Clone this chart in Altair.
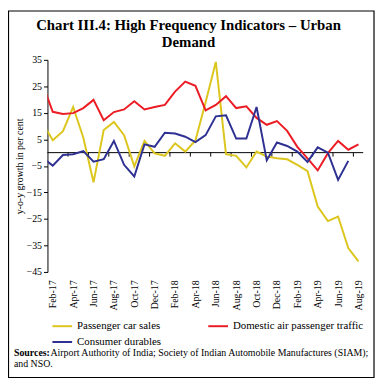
import altair as alt
import pandas as pd

months = ["Jan-17","Feb-17","Mar-17","Apr-17","May-17","Jun-17","Jul-17","Aug-17","Sep-17","Oct-17","Nov-17","Dec-17",
          "Jan-18","Feb-18","Mar-18","Apr-18","May-18","Jun-18","Jul-18","Aug-18","Sep-18","Oct-18","Nov-18","Dec-18",
          "Jan-19","Feb-19","Mar-19","Apr-19","May-19","Jun-19","Jul-19","Aug-19"]

car_sales = [11.2, 4.7, 8.1, 17.2, 5.6, -11.2, 8.5, 11.6, 6.6, -5.2, 4.4, -0.3,
             -1.2, 3.5, 0.4, 4.6, 19.0, 34.2, -0.6, -1.2, -5.6, 0.4, -1.5, -2.1,
             -2.5, -4.6, -7.0, -20.3, -25.8, -24.1, -36.0, -41.0]
air_traffic = [25.8, 15.4, 14.6, 14.9, 16.8, 19.9, 12.2, 15.3, 16.3, 19.4, 16.3, 17.2,
               18.0, 23.0, 26.8, 25.2, 15.9, 18.0, 21.3, 16.8, 17.5, 13.1, 10.5, 11.9,
               8.2, 2.2, -2.2, -6.7, -0.2, 4.4, 1.1, 3.1]
durables = [-2.0, -4.9, -0.9, -0.6, 0.6, -3.4, -2.5, 4.4, -4.6, -9.0, 3.1, 2.2,
            7.5, 7.2, 6.0, 4.0, 6.6, 13.7, 14.1, 5.3, 5.3, 17.2, -2.9, 3.8,
            2.5, 0.4, -3.5, 2.0, 0.0, -10.3, -3.1, None]

series_names = ["Passenger car sales", "Domestic air passenger traffic", "Consumer durables"]
series_colors = ["#DCC61E", "#EC1C24", "#2E3192"]
y_ticks = [-45, -35, -25, -15, -5, 5, 15, 25, 35]
x_label_idx = list(range(1, 32, 2))

rows = []
for name, vals in zip(series_names, [car_sales, air_traffic, durables]):
    for i, v in enumerate(vals):
        if v is not None:
            rows.append({"idx": i, "value": v, "series": name})
df = pd.DataFrame(rows)

SERIF = "Liberation Serif"
label_expr = "[" + ",".join("'%s'" % m for m in months) + "][datum.value]"
x_scale = alt.Scale(domain=[0.48, 31.46], nice=False, zero=False)
y_scale = alt.Scale(domain=[-45, 35], nice=False)

x_axis = alt.Axis(values=x_label_idx, labelExpr=label_expr, labelAngle=-90,
                  labelAlign="right", labelBaseline="middle", domain=False, ticks=False,
                  grid=False, labelPadding=8, labelFont=SERIF, labelFontSize=10,
                  labelColor="black", labelOverlap=False, labelBound=False,
                  labelFlush=False, title=None)
y_axis = alt.Axis(values=y_ticks, grid=False, domainColor="black", tickColor="black",
                  tickSize=4, labelPadding=2, labelFont=SERIF, labelFontSize=10,
                  labelColor="black", labelOverlap=False, title="y-o-y growth in per cent",
                  titleFont=SERIF, titleFontSize=10, titleFontWeight="normal",
                  titleColor="black", titlePadding=2)

lines = alt.Chart(df).mark_line(strokeWidth=2, clip=True).encode(
    x=alt.X("idx:Q", scale=x_scale, axis=x_axis),
    y=alt.Y("value:Q", scale=y_scale, axis=y_axis),
    color=alt.Color("series:N", sort=series_names,
                    scale=alt.Scale(domain=series_names, range=series_colors),
                    legend=alt.Legend(orient="none", legendX=4, legendY=259, columns=2,
                                      direction="horizontal", columnPadding=43, rowPadding=-6,
                                      symbolType="stroke", symbolSize=400, symbolStrokeWidth=2,
                                      labelFont=SERIF, labelFontSize=11, labelColor="black",
                                      title=None, padding=0)),
    order=alt.Order("idx:Q"),
)

zero = alt.Chart(pd.DataFrame({"y": [0]})).mark_rule(color="black", strokeWidth=1).encode(
    y=alt.Y("y:Q", scale=y_scale, axis=y_axis))

tick_pos = [i + 0.5 for i in range(2, 31, 2)]
zticks = alt.Chart(pd.DataFrame({"t": tick_pos, "y0": [0] * len(tick_pos), "y1": [-1.5] * len(tick_pos)})).mark_rule(
    color="black", strokeWidth=1).encode(
    x=alt.X("t:Q", scale=x_scale, axis=x_axis),
    y=alt.Y("y0:Q", scale=y_scale, axis=y_axis), y2="y1:Q")

frame = alt.Chart(pd.DataFrame({"a": [0]})).mark_rect(fill=None, stroke="black", strokeWidth=1.2).encode(
    x=alt.value(-39.5), x2=alt.value(331), y=alt.value(-49.5), y2=alt.value(322))

title_lines = ["Chart III.4: High Frequency Indicators – Urban", "Demand"]
title1 = alt.Chart(pd.DataFrame({"t": [title_lines[0]]})).mark_text(
    font=SERIF, fontSize=15, fontWeight="bold", align="center", baseline="alphabetic", color="black").encode(
    text="t:N", x=alt.value(143), y=alt.value(-30))
title2 = alt.Chart(pd.DataFrame({"t": [title_lines[1]]})).mark_text(
    font=SERIF, fontSize=15, fontWeight="bold", align="center", baseline="alphabetic", color="black").encode(
    text="t:N", x=alt.value(143), y=alt.value(-13))

src_b = alt.Chart(pd.DataFrame({"t": ["Sources:"]})).mark_text(
    font=SERIF, fontSize=10, fontWeight="bold", align="left", baseline="alphabetic", color="black").encode(
    text="t:N", x=alt.value(-34), y=alt.value(300))
src_1 = alt.Chart(pd.DataFrame({"t": ["Airport Authority of India; Society of Indian Automobile Manufactures (SIAM);"]})).mark_text(
    font=SERIF, fontSize=10, align="left", baseline="alphabetic", color="black").encode(
    text="t:N", x=alt.value(3), y=alt.value(300))
src_2 = alt.Chart(pd.DataFrame({"t": ["and NSO."]})).mark_text(
    font=SERIF, fontSize=10, align="left", baseline="alphabetic", color="black").encode(
    text="t:N", x=alt.value(-34), y=alt.value(311))

chart = alt.layer(frame, zero, zticks, lines, title1, title2, src_b, src_1, src_2).properties(
    width=320, height=215,
    padding={"left": 40, "top": 50, "right": 12, "bottom": 108},
    autosize=alt.AutoSizeParams(type="none"),
).configure_view(stroke=None).configure_axis(labelOverlap=False)

chart.save("out.html", embed_options={"renderer": "svg", "actions": False})
